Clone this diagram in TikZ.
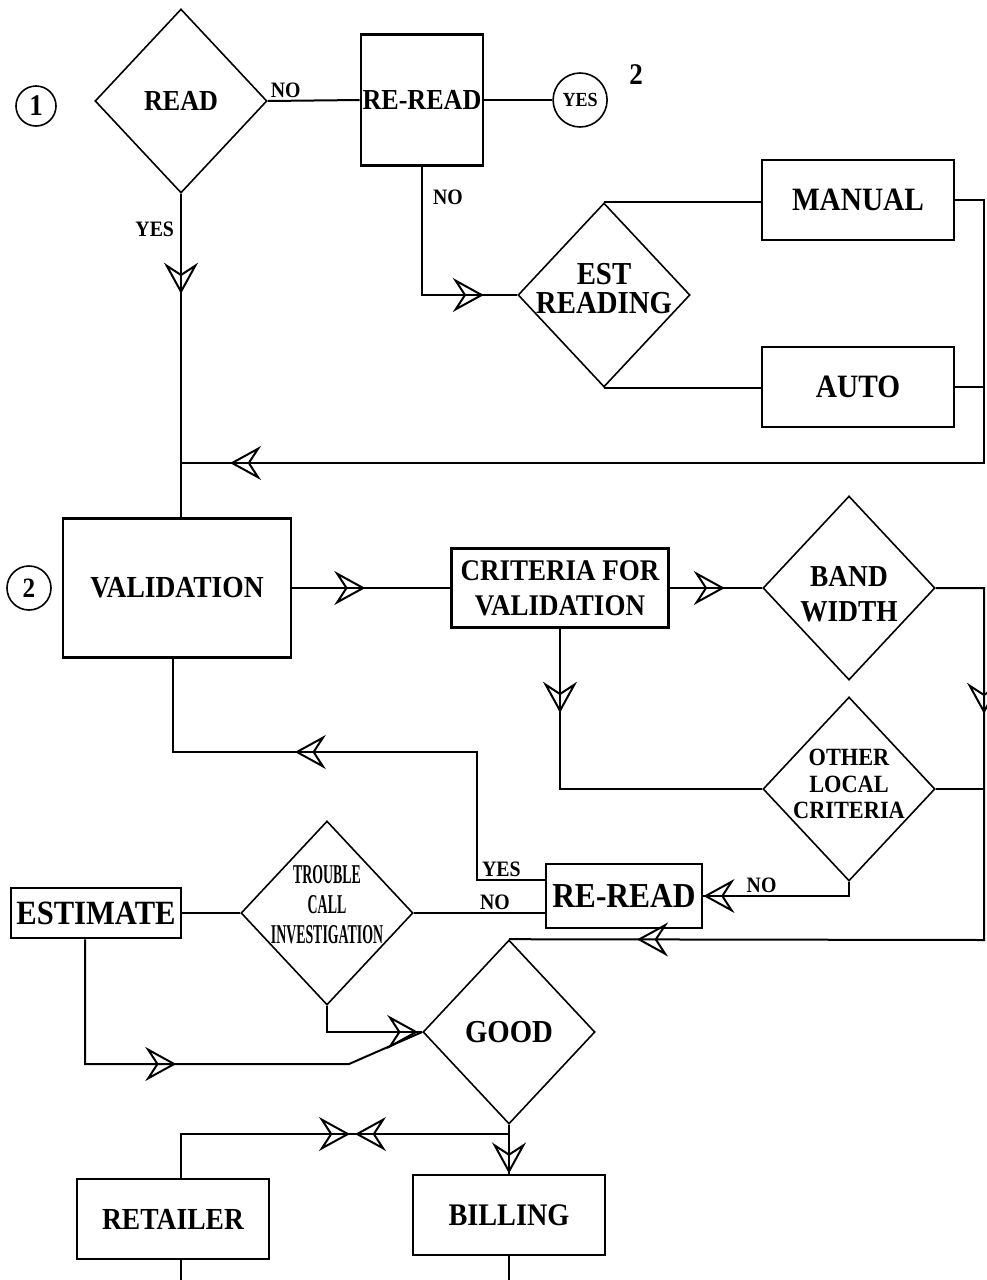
\documentclass[tikz,border=0pt]{standalone}
\usepackage{fontspec}
\setmainfont{Liberation Serif}[FakeStretch=0.9]
\newfontfamily\narrowfont{Liberation Serif}[FakeStretch=0.51]
\usetikzlibrary{positioning, calc, shapes.geometric, arrows.meta, decorations.markings}
\newcommand{\fsz}[2]{\fontsize{#1}{#2}\selectfont\bfseries}
\tikzstyle{box} = [draw, rectangle, line width=1.3pt, inner sep=0pt]
\tikzstyle{decision} = [draw, diamond, line width=0.8pt, inner sep=0pt,
minimum width=86pt, minimum height=92pt]
\tikzstyle{ring} = [draw, circle, line width=0.8pt, inner sep=0pt]
\tikzstyle{lbl} = [font=\fsz{11}{12}, inner sep=1pt]
\tikzset{
Arrow/.style={
postaction={decorate, decoration={
markings,
mark=at position #1 with {
\arrow{Stealth[open, length=15.5pt, width=17pt, inset=5.5pt, line width=1pt]}}}}},
BackArrow/.style={
postaction={decorate, decoration={
markings,
mark=at position #1 with {
\arrowreversed{Stealth[open, length=15.5pt, width=17pt, inset=5.5pt, line width=1pt]}}}}}}

\begin{document}
\begin{tikzpicture}[x=0.5pt, y=-0.5pt, line width=1pt]
    \useasboundingbox (0,0) rectangle (986,1280);
    % reading
    \node[ring, minimum size=20pt, font=\fsz{15}{16}] (c1) at (36,106) {1};
    \node[decision, font=\fsz{14.5}{16}] (read) at (181,101) {READ};
    \node[box, minimum width=61pt, minimum height=65.5pt, font=\fsz{14.5}{16}] (reread) at (422,100) {RE-READ};
    \node[ring, minimum size=27pt, font=\fsz{10}{11}, right=34pt of reread] (yes) {YES};
    \node[font=\fsz{15}{16}] (two) at (636,75) {2};
    \node[decision] (est) at (604,295) {};
    \node[font=\fsz{16}{14.5}, align=center, yshift=3pt] (esttext) at (est) {EST\\READING};
    \node[box, minimum width=96pt, minimum height=40pt, font=\fsz{16.3}{18}] (manual) at (858,200) {MANUAL};
    \node[box, minimum width=96pt, minimum height=40pt, font=\fsz{16.3}{18}] (automatic) at (858,387) {AUTO};
    % validation
    \node[ring, minimum size=22pt, font=\fsz{14}{15}] (c2) at (29,588) {2};
    \node[box, minimum width=114pt, minimum height=69.5pt, font=\fsz{15.3}{17}] (valid) at (177,588) {VALIDATION};
    \node[box, minimum width=108.5pt, minimum height=39.5pt, font=\fsz{15}{17.5}, align=center] (crit) at (560,588) {CRITERIA FOR\\VALIDATION};
    \node[decision] (band) at (849,588) {};
    \node[font=\fsz{15.2}{17.5}, align=center, yshift=-3pt] (bandtext) at (band) {BAND\\WIDTH};
    \node[decision] (other) at (849,789) {};
    \node[font=\fsz{12.4}{13.25}, align=center, yshift=2.5pt] (othertext) at (other) {OTHER\\LOCAL\\CRITERIA};
    \node[box, minimum width=78pt, minimum height=32pt, font=\fsz{17.5}{19}] (reread2) at (624,896) {RE-READ};
    \node[decision] (trouble) at (327,913) {};
    \node[font=\narrowfont\fsz{13.6}{15}, align=center, yshift=4pt] (troubletext) at (trouble) {TROUBLE\\CALL\\INVESTIGATION};
    \node[box, minimum width=85pt, minimum height=25pt, font=\fsz{17}{19}] (estim) at (96,913) {ESTIMATE};
    \node[decision, font=\fsz{16}{18}] (good) at (509,1032) {GOOD};
    \node[box, minimum width=96pt, minimum height=40pt, font=\fsz{15.7}{17}] (billing) at (509,1215) {BILLING};
    \node[box, minimum width=96pt, minimum height=40pt, font=\fsz{15.3}{17}] (retailer) at (173,1219) {RETAILER};
    \coordinate (r1) at (984,463);
    \coordinate (j1) at (181,463);
    \coordinate (r2) at (984,940);
    \coordinate (y1) at (477,752);
    \coordinate (e1) at (349,1064);
    \coordinate (j2) at (509,1134);
    \coordinate (b1) at (181,1280);
    \coordinate (b2) at (509,1280);
    % lines
    \draw (read.east) -- node[lbl, pos=0, anchor=south west] (no1) {NO} (reread.west);
    \draw (reread.east) -- (yes.west);
    \draw[Arrow=95pt] (reread.south) |- node[lbl, pos=0.12, right, xshift=4pt] (no2) {NO} (est.west);
    \draw (est.north) -- (est.north -| manual.west);
    \draw (est.south) -- (est.south -| automatic.west);
    \draw[Arrow=-24.5pt] (manual.east) -| (r1) -- (j1);
    \draw (automatic.east) -- (automatic.east -| r1);
    \draw[Arrow=50pt] (read.south) -- node[lbl, pos=0.11, left, xshift=-2pt] (yes1) {YES} (read.south |- valid.north);
    \draw[Arrow=36.5pt] (valid.east) -- (crit.west);
    \draw[Arrow=27.5pt] (crit.east) -- (band.west);
    \draw[Arrow=42pt] (crit.south) |- (other.west);
    \draw[Arrow=87pt, Arrow=-64pt] (band.east) -| (r2) -- (good.north);
    \draw (other.east) -- (other.east -| r2);
    \draw[Arrow=-0.1pt] (other.south) |- node[lbl, pos=0.8, above] (no3) {NO} (reread2.east);
    \draw[Arrow=-107.5pt] ([yshift=8pt]reread2.west) -| node[lbl, pos=0.32, above] (yes2) {YES} (y1) -| ([xshift=-2pt]valid.south);
    \draw (trouble.east) -- node[lbl, pos=0.62, above] (no4) {NO} (trouble.east -| reread2.west);
    \draw (estim.east) -- (trouble.west);
    \draw[Arrow=-2pt] (trouble.south) |- (good.west);
    \draw[Arrow=108pt] ([xshift=-5.5pt]estim.south) |- (e1) -- (good.west);
    \draw[Arrow=-0.1pt] (good.south) -- (good.south |- billing.north);
    \draw[Arrow=77pt, BackArrow=79.5pt] (j2) -| ([xshift=4pt]retailer.north);
    \draw ([xshift=4pt]retailer.south) -- (b1);
    \draw (billing.south) -- (b2);
\end{tikzpicture}
\end{document}
